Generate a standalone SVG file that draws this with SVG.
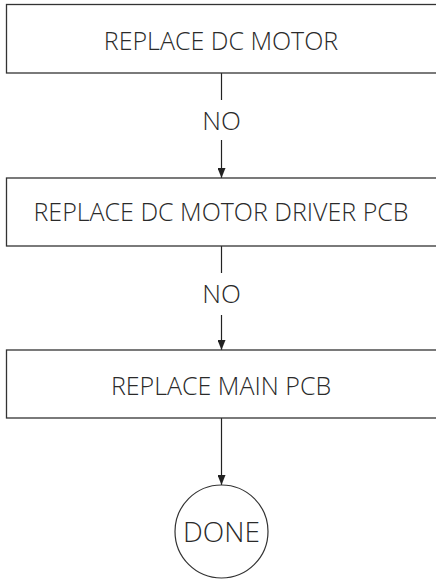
<svg xmlns="http://www.w3.org/2000/svg" width="436" height="581" viewBox="0 0 436 581">
<style>
.box{fill:#fff;stroke:#333;stroke-width:1.3}
.t{font-family:"Open Sans","Liberation Sans",sans-serif;font-size:25px;fill:#2a2a2a;text-anchor:middle;font-weight:300}
.lbl{font-family:"Open Sans","Liberation Sans",sans-serif;font-size:26px;fill:#2a2a2a;text-anchor:middle;font-weight:300}
.ln{stroke:#222;stroke-width:1.2;fill:none}
</style>
<defs>
<marker id="ah" viewBox="0 0 10 8" refX="10" refY="4" markerWidth="10" markerHeight="8" markerUnits="userSpaceOnUse" orient="auto">
<path d="M0,0 L10,4 L0,8 Z" fill="#222"/>
</marker>
</defs>
<rect width="436" height="581" fill="#fff"/>
<g id="connectors">
<line class="ln" x1="221.5" y1="73" x2="221.5" y2="100"/>
<line class="ln" x1="221.5" y1="140" x2="221.5" y2="178" marker-end="url(#ah)"/>
<text class="lbl" x="221.5" y="130">NO</text>
<line class="ln" x1="221.5" y1="246" x2="221.5" y2="273"/>
<line class="ln" x1="221.5" y1="315" x2="221.5" y2="350" marker-end="url(#ah)"/>
<text class="lbl" x="221.5" y="303">NO</text>
<line class="ln" x1="221.5" y1="418" x2="221.5" y2="485" marker-end="url(#ah)"/>
</g>
<g id="n1">
<rect class="box" x="6.5" y="4.5" width="440" height="68.5"/>
<text class="t" x="221" y="50">REPLACE DC MOTOR</text>
</g>
<g id="n2">
<rect class="box" x="6.5" y="178" width="440" height="68"/>
<text class="t" x="221" y="221">REPLACE DC MOTOR DRIVER PCB</text>
</g>
<g id="n3">
<rect class="box" x="6.5" y="350" width="440" height="68"/>
<text class="t" x="221" y="395">REPLACE MAIN PCB</text>
</g>
<g id="n4">
<circle cx="221.5" cy="531.5" r="46.5" fill="#fff" stroke="#333" stroke-width="1.2"/>
<text class="lbl" x="221.5" y="542" style="font-size:28px">DONE</text>
</g>
</svg>
